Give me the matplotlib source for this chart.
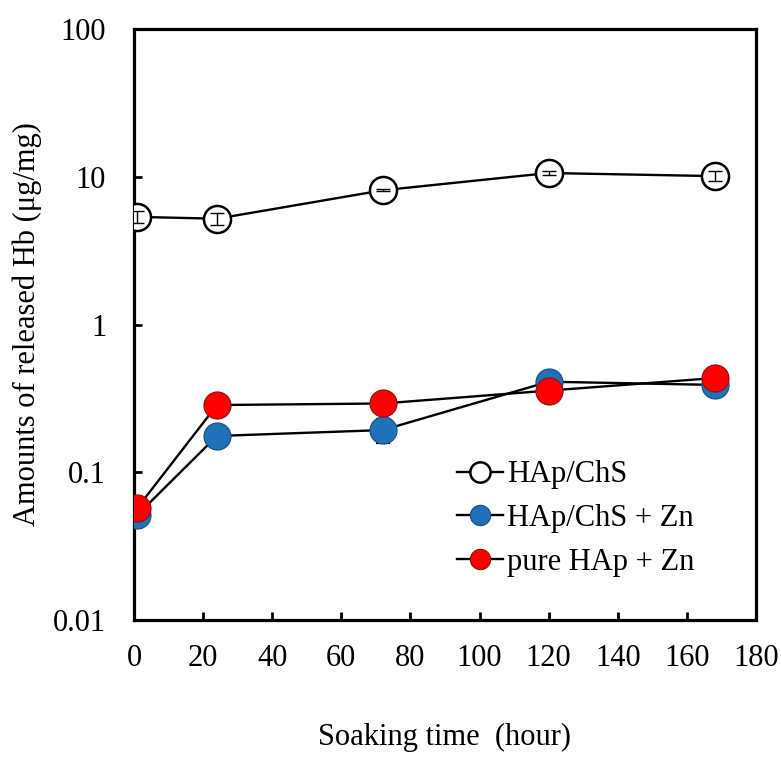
import matplotlib

matplotlib.use("Agg")

import matplotlib.pyplot as plt
import numpy as np

plt.rcParams.update({
    "font.family": ["Liberation Serif", "DejaVu Serif"],
    "mathtext.fontset": "custom",
})

# soaking time (hour)
hours = [1, 24, 72, 120, 168]

# released Hb (ug/mg)
chs = [5.35, 5.2, 8.1, 10.6, 10.1]
chs_err = [0.5, 0.5, 0.15, 0.3, 0.8]

chs_zn = [0.0515, 0.176, 0.193, 0.41, 0.39]
chs_zn_err = [0.003, 0.01, 0.035, 0.02, 0.02]

hap_zn = [0.0575, 0.285, 0.292, 0.357, 0.434]
hap_zn_err = [0.003, 0.01, 0.01, 0.02, 0.02]

X_TICKS = [0, 20, 40, 60, 80, 100, 120, 140, 160, 180]
Y_TICKS = [0.01, 0.1, 1, 10, 100]
Y_TICK_LABELS = ["0.01", "0.1", "1", "10", "100"]

BLUE = "#2071B7"
RED = "#FF0000"
FONT = 22
MS = 19.5

figure = plt.figure(figsize=(7.81, 7.57), dpi=100)
axis = figure.add_axes([134 / 781, 1 - 620 / 757, 622 / 781, 591 / 757])

# open circles, white filled so the error bars sit inside them
axis.plot(hours, chs, "-o", color="black", lw=1.7, ms=MS,
          mfc="white", mec="black", mew=1.8, label="HAp/ChS", zorder=3)
axis.errorbar(hours, chs, yerr=chs_err, fmt="none", ecolor="black",
              elinewidth=1.0, capsize=5, capthick=1.0, zorder=4)

axis.errorbar(hours, chs_zn, yerr=chs_zn_err, fmt="none", ecolor="black",
              elinewidth=1.0, capsize=5, capthick=1.6, zorder=4.5)
axis.plot(hours, chs_zn, "-o", color="black", lw=1.7, ms=MS,
          mfc=BLUE, mec="#1a4f80", mew=0.8, label="HAp/ChS + Zn", zorder=5)

axis.errorbar(hours, hap_zn, yerr=hap_zn_err, fmt="none", ecolor="black",
              elinewidth=1.0, capsize=5, capthick=1.6, zorder=5.5)
axis.plot(hours, hap_zn, "-o", color="black", lw=1.7, ms=MS,
          mfc=RED, mec="#8a1010", mew=0.8, label="pure HAp + Zn", zorder=6)

axis.set_yscale("log")
axis.set_xlim(0, 180)
axis.set_ylim(0.01, 100)
axis.set_xticks(X_TICKS)
axis.set_yticks(Y_TICKS)
axis.set_yticklabels(Y_TICK_LABELS)
axis.minorticks_off()

for spine in axis.spines.values():
    spine.set_linewidth(2.3)

axis.tick_params(axis="x", direction="in", length=6, width=2, pad=17,
                 labelsize=FONT, top=False)
axis.tick_params(axis="y", direction="in", length=6, width=2, pad=20,
                 labelsize=FONT, right=False)

axis.set_xlabel("Soaking time  (hour)", fontsize=FONT, labelpad=36)
axis.set_ylabel("Amounts of released Hb (μg/mg)", fontsize=FONT, labelpad=8)

axis.legend(
    loc="upper left",
    bbox_to_anchor=(0.519, 0.27),
    frameon=False,
    fontsize=FONT,
    markerscale=0.75,
    handlelength=1.5,
    handletextpad=0.15,
    labelspacing=0.48,
    borderpad=0,
    borderaxespad=0,
)

figure.savefig("out.png", dpi=100)
